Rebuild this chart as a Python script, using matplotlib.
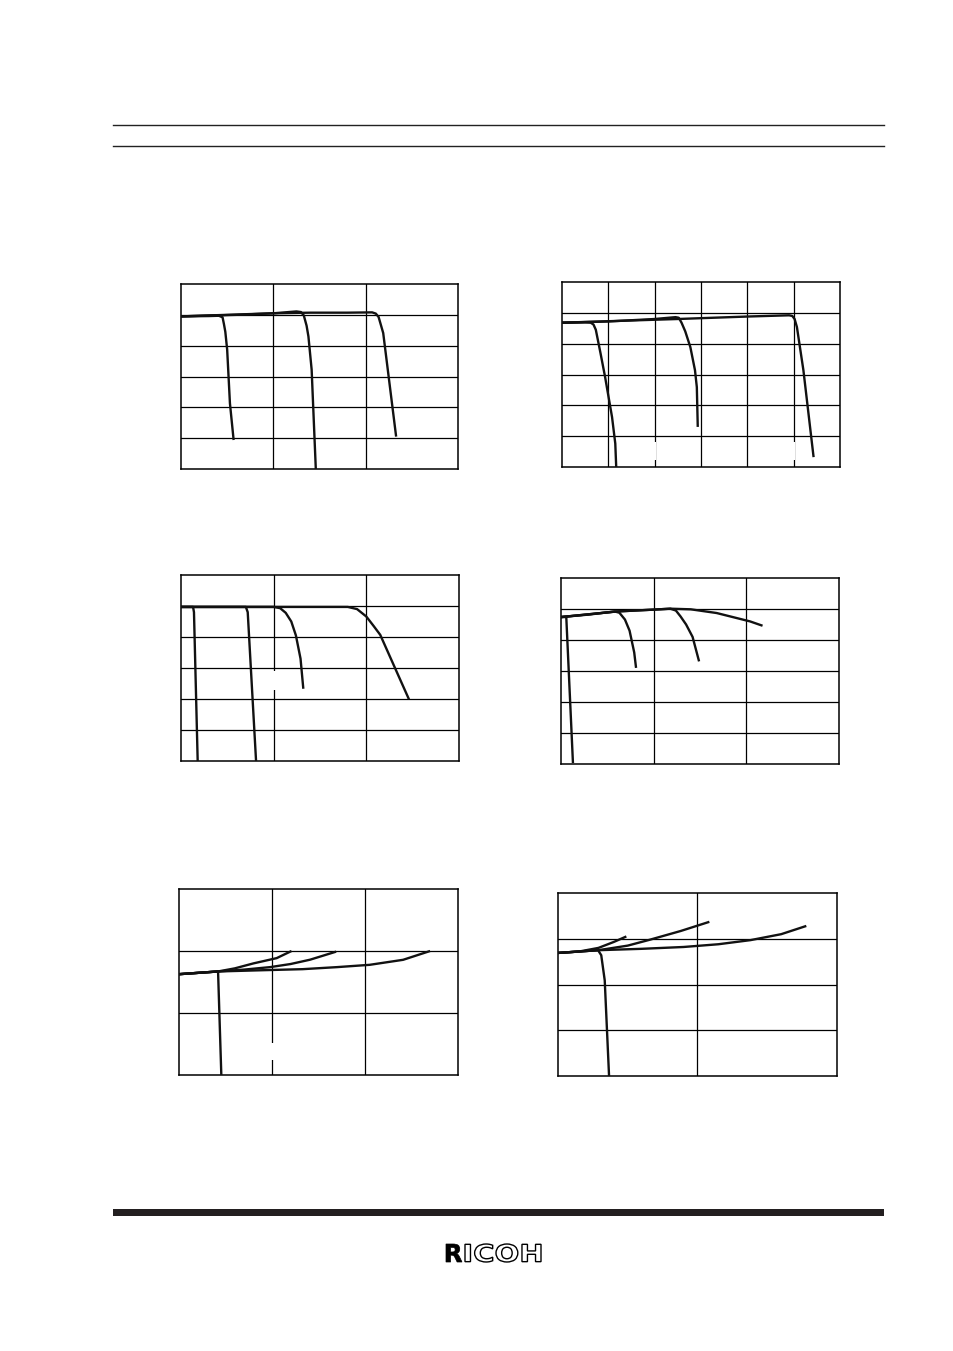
import numpy as np
import matplotlib
matplotlib.use("Agg")
import matplotlib.pyplot as plt
from matplotlib.patches import Rectangle, PathPatch
from matplotlib.textpath import TextPath
from matplotlib.font_manager import FontProperties
from matplotlib.transforms import Affine2D

W, H = 954, 1351

# ---- data (grid units, no labels on the page) ----
# chart 1: 3 x 6 grid
c1_a_x = [0, 0.30, 0.41, 0.45, 0.465, 0.48, 0.50, 0.53, 0.57]
c1_a_y = [4.95, 4.96, 4.97, 4.92, 4.70, 4.45, 3.87, 2.13, 0.94]
c1_b_x = [0, 0.6, 1.0, 1.25, 1.30, 1.33, 1.36, 1.38, 1.415, 1.46]
c1_b_y = [4.95, 5.00, 5.05, 5.11, 5.09, 4.98, 4.65, 4.30, 3.22, 0.0]
c1_c_x = [0, 1.0, 1.4, 1.8, 2.07, 2.11, 2.14, 2.19, 2.26, 2.33]
c1_c_y = [4.95, 5.05, 5.07, 5.07, 5.08, 5.04, 4.93, 4.41, 2.73, 1.05]

# chart 2: 6 x 6 grid
c2_a_x = [0, 0.50, 0.62, 0.68, 0.73, 0.83, 0.93, 1.08, 1.15, 1.17]
c2_a_y = [4.68, 4.69, 4.68, 4.62, 4.45, 3.70, 2.92, 1.62, 0.76, 0.0]
c2_b_x = [0, 1.0, 2.0, 2.45, 2.52, 2.58, 2.66, 2.77, 2.87, 2.91, 2.93]
c2_b_y = [4.68, 4.72, 4.80, 4.86, 4.84, 4.68, 4.40, 3.89, 3.14, 2.59, 1.30]
c2_c_x = [0, 2.5, 4.0, 4.90, 4.97, 5.02, 5.07, 5.21, 5.43]
c2_c_y = [4.68, 4.80, 4.88, 4.92, 4.90, 4.80, 4.54, 3.14, 0.32]

# chart 3: 3 x 6 grid
c3_a_x = [0, 0.13, 0.14, 0.18]
c3_a_y = [4.97, 4.97, 4.80, 0.0]
c3_b_x = [0, 0.70, 0.72, 0.81]
c3_b_y = [4.97, 4.97, 4.80, 0.0]
c3_c_x = [0, 1.0, 1.07, 1.13, 1.19, 1.24, 1.29, 1.32]
c3_c_y = [4.97, 4.97, 4.93, 4.78, 4.50, 4.05, 3.30, 2.33]
c3_d_x = [0, 1.80, 1.90, 2.0, 2.08, 2.15, 2.46]
c3_d_y = [4.97, 4.97, 4.90, 4.66, 4.35, 4.07, 1.99]

# chart 4: 3 x 6 grid
c4_a_x = [0, 0.057, 0.129]
c4_a_y = [4.74, 4.74, 0.03]
c4_b_x = [0, 0.3, 0.58, 0.63, 0.69, 0.74, 0.79, 0.81]
c4_b_y = [4.74, 4.82, 4.92, 4.88, 4.66, 4.30, 3.60, 3.10]
c4_c_x = [0, 0.6, 1.0, 1.18, 1.24, 1.29, 1.35, 1.42, 1.49]
c4_c_y = [4.74, 4.92, 4.98, 5.01, 4.95, 4.76, 4.50, 4.10, 3.31]
c4_d_x = [0, 0.6, 1.0, 1.18, 1.40, 1.68, 2.04, 2.175]
c4_d_y = [4.74, 4.92, 4.98, 5.01, 4.99, 4.87, 4.60, 4.46]

# chart 5: 3 x 3 grid
c5_a_x = [0, 0.42, 0.455]
c5_a_y = [1.626, 1.67, 0.0]
c5_b_x = [0, 0.42, 0.6, 0.80, 1.05, 1.21]
c5_b_y = [1.626, 1.67, 1.72, 1.80, 1.885, 2.0]
c5_c_x = [0, 0.42, 0.70, 0.98, 1.20, 1.41, 1.69]
c5_c_y = [1.626, 1.67, 1.70, 1.74, 1.79, 1.86, 1.99]
c5_d_x = [0, 0.42, 0.9, 1.33, 1.7, 2.05, 2.41, 2.70]
c5_d_y = [1.626, 1.67, 1.69, 1.707, 1.74, 1.777, 1.858, 2.0]

# chart 6: 2 x 4 grid
c6_a_x = [0, 0.287, 0.31, 0.335, 0.366]
c6_a_y = [2.69, 2.75, 2.64, 2.09, 0.0]
c6_b_x = [0, 0.15, 0.29, 0.40, 0.49]
c6_b_y = [2.69, 2.72, 2.80, 2.93, 3.05]
c6_c_x = [0, 0.29, 0.5, 0.66, 0.88, 1.085]
c6_c_y = [2.69, 2.75, 2.85, 2.98, 3.17, 3.37]
c6_d_x = [0, 0.29, 0.6, 0.9, 1.15, 1.38, 1.6, 1.78]
c6_d_y = [2.69, 2.75, 2.78, 2.82, 2.88, 2.97, 3.10, 3.28]


fig = plt.figure(figsize=(W / 100, H / 100), dpi=100)

# page decoration layer in pixel coordinates
page = fig.add_axes([0, 0, 1, 1])
page.set_xlim(0, W)
page.set_ylim(H, 0)
page.axis("off")
page.plot([113, 884], [124.5, 124.5], color="#222222", lw=1.0)
page.plot([113, 884], [146, 146], color="#222222", lw=1.0)
page.add_patch(Rectangle((113, 1209), 771, 7, color="#231f20", lw=0))

# RICOH logo: R filled, ICOH outlined
fp = FontProperties(family="DejaVu Sans", weight="bold")
def logo_part(txt, x0, x1, y0, y1, fill):
    tp = TextPath((0, 0), txt, size=10, prop=fp)
    ext = tp.get_extents()
    sx = (x1 - x0) / ext.width
    sy = (y1 - y0) / ext.height
    tr = (Affine2D().translate(-ext.x0, -ext.y0).scale(sx, -sy)
          .translate(x0, y1))
    path = tr.transform_path(tp)
    if fill:
        page.add_patch(PathPatch(path, facecolor="black", edgecolor="black", lw=0.5))
    else:
        page.add_patch(PathPatch(path, facecolor="white", edgecolor="black", lw=1.0))

logo_part("R", 446, 462, 1244, 1262, True)
logo_part("ICOH", 465, 541, 1244, 1262, False)


def chart(box, ncol, nrow, curves, gaps=()):
    l, t, r, b = box
    ax = fig.add_axes([l / W, 1 - b / H, (r - l) / W, (b - t) / H])
    ax.set_xlim(0, ncol)
    ax.set_ylim(0, nrow)
    ax.set_xticks(np.arange(1, ncol))
    ax.set_yticks(np.arange(1, nrow))
    ax.tick_params(length=0, labelbottom=False, labelleft=False)
    ax.grid(True, color="black", lw=0.9)
    ax.set_axisbelow(True)
    for s in ax.spines.values():
        s.set_linewidth(1.1)
    for gx, gy0, gy1 in gaps:
        ax.add_patch(Rectangle((gx - 0.03, gy0), 0.06, gy1 - gy0,
                               color="white", lw=0, zorder=1.5))
    for cx, cy in curves:
        ax.plot(cx, cy, color="#111111", lw=1.7, solid_capstyle="butt",
                solid_joinstyle="round", zorder=3)
    return ax


chart((181, 284, 458, 469), 3, 6,
      [(c1_a_x, c1_a_y), (c1_b_x, c1_b_y), (c1_c_x, c1_c_y)])
chart((562, 282, 840, 467), 6, 6,
      [(c2_a_x, c2_a_y), (c2_b_x, c2_b_y), (c2_c_x, c2_c_y)],
      gaps=[(2, 0.22, 0.81), (5, 0.22, 0.81)])
chart((181, 575, 459, 761), 3, 6,
      [(c3_a_x, c3_a_y), (c3_b_x, c3_b_y), (c3_c_x, c3_c_y), (c3_d_x, c3_d_y)],
      gaps=[(1, 2.29, 2.89)])
chart((561, 578, 839, 764), 3, 6,
      [(c4_a_x, c4_a_y), (c4_b_x, c4_b_y), (c4_c_x, c4_c_y), (c4_d_x, c4_d_y)])
chart((179, 889, 458, 1075), 3, 3,
      [(c5_a_x, c5_a_y), (c5_b_x, c5_b_y), (c5_c_x, c5_c_y), (c5_d_x, c5_d_y)],
      gaps=[(1, 0.24, 0.51)])
chart((558, 893, 837, 1076), 2, 4,
      [(c6_a_x, c6_a_y), (c6_b_x, c6_b_y), (c6_c_x, c6_c_y), (c6_d_x, c6_d_y)])

fig.savefig("out.png", dpi=100)
